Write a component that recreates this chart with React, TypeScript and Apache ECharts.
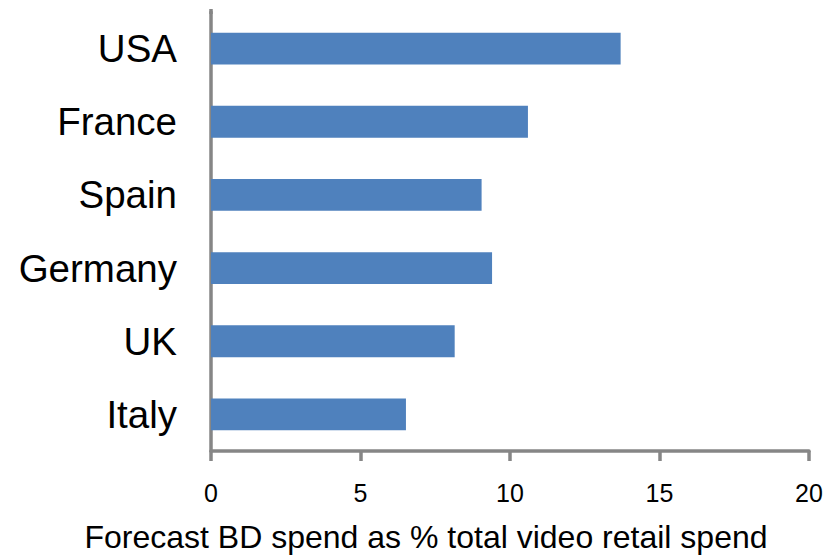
import React, { useEffect, useRef } from "react";
import * as echarts from "echarts";

const categories = ["USA", "France", "Spain", "Germany", "UK", "Italy"];
const values = [13.7, 10.6, 9.05, 9.4, 8.15, 6.52];
const xTicks = { min: 0, max: 20, interval: 5 };
const axisTitle = "Forecast BD spend as % total video retail spend";

export default function App() {
  const ref = useRef<HTMLDivElement>(null);
  useEffect(() => {
    if (!ref.current) return;
    const chart = echarts.init(ref.current, undefined, { renderer: "svg" });
    const font = "Arial, 'Liberation Sans', sans-serif";
    const axisColor = "#868686";
    chart.setOption({
      animation: false,
      backgroundColor: "#ffffff",
      grid: { left: 211, right: 30, top: 12, bottom: 104, containLabel: false },
      xAxis: {
        type: "value",
        min: xTicks.min,
        max: xTicks.max,
        interval: xTicks.interval,
        splitLine: { show: false },
        axisLine: { show: true, lineStyle: { color: axisColor, width: 3.5 } },
        axisTick: { show: true, length: 10, lineStyle: { color: axisColor, width: 3.5 } },
        axisLabel: { fontSize: 25, color: "#000", fontFamily: font, margin: 29 },
      },
      yAxis: {
        type: "category",
        data: categories,
        inverse: true,
        axisLine: { show: true, lineStyle: { color: axisColor, width: 3.5 } },
        axisTick: { show: false },
        axisLabel: { fontSize: 38.5, color: "#000", fontFamily: font, margin: 34 },
      },
      series: [
        {
          type: "bar",
          data: values,
          barWidth: "43.5%",
          itemStyle: { color: "#4F81BD" },
        },
      ],
      graphic: [
        {
          type: "line",
          shape: { x1: 211, y1: 9, x2: 211, y2: 14 },
          style: { stroke: axisColor, lineWidth: 3.5 },
        },
        {
          type: "text",
          x: 426,
          y: 537,
          style: {
            text: axisTitle,
            fill: "#000",
            font: `32px ${font}`,
            textAlign: "center",
            textVerticalAlign: "middle",
          },
        },
      ],
    });
    return () => chart.dispose();
  }, []);
  return (
    <div
      ref={ref}
      style={{ position: "fixed", left: 0, top: 0, width: 839, height: 555 }}
    />
  );
}
